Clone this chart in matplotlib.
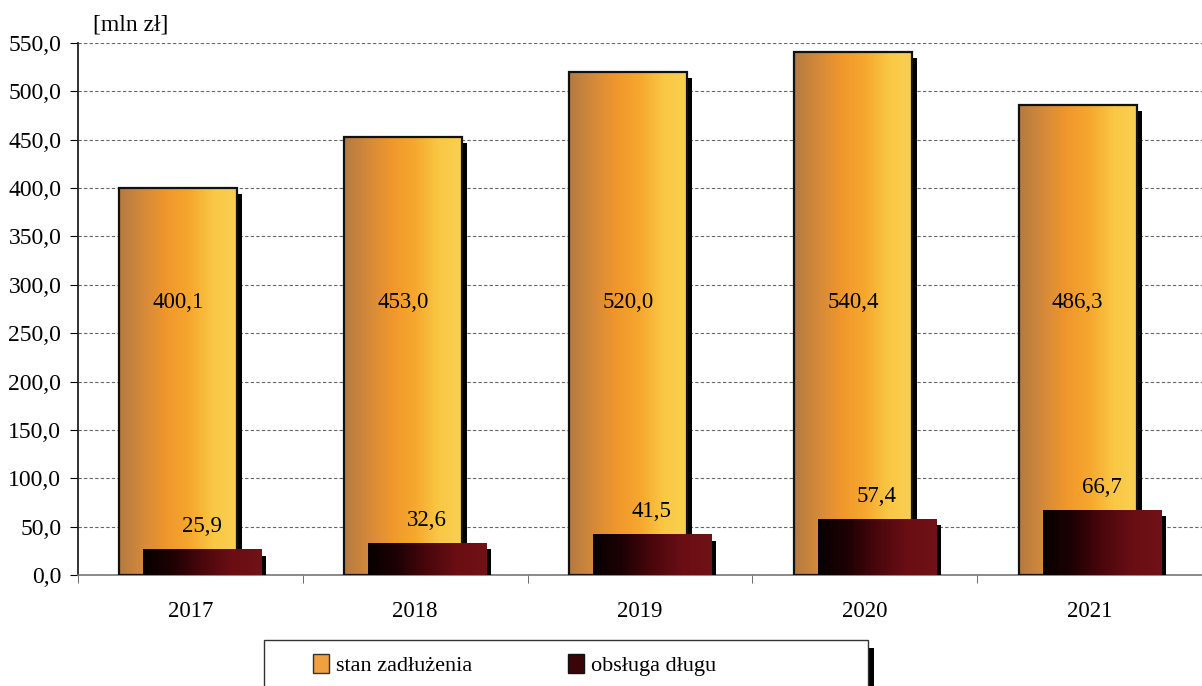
import numpy as np
import matplotlib
matplotlib.use('Agg')
import matplotlib.pyplot as plt
import matplotlib.transforms as mtransforms
from matplotlib.colors import LinearSegmentedColormap
from matplotlib.patches import Rectangle, Patch
from matplotlib.ticker import MultipleLocator, FuncFormatter, FixedLocator

# dane
lata = ['2017', '2018', '2019', '2020', '2021']
stan = [400.1, 453.0, 520.0, 540.4, 486.3]
obsluga = [25.9, 32.6, 41.5, 57.4, 66.7]
opisy = ['stan zadłużenia', 'obsługa długu']

plt.rcParams['font.family'] = ['Liberation Serif', 'DejaVu Serif']

W, H = 1202, 686
fig = plt.figure(figsize=(W / 100, H / 100), dpi=100)
ax = fig.add_axes([78 / W, 1 - 575 / H, 1 - 78 / W, (575 - 43) / H])

orange = LinearSegmentedColormap.from_list(
    'or', ['#b47a40', '#d4893a', '#f0972c', '#f6a82e', '#f9c844', '#fad052'])
dark = LinearSegmentedColormap.from_list(
    'dk', ['#080000', '#1e0204', '#4a070c', '#6a0e14', '#701218'])

x = np.arange(len(lata))
w = 0.525
d = 0.053
cien = mtransforms.offset_copy(ax.transData, fig=fig, x=5, y=-6, units='dots')
grad = np.linspace(0, 1, 256).reshape(1, -1)


def fmt(v):
    return f'{v:.1f}'.replace('.', ',')


for i in x:
    # stan zadluzenia
    x0 = i - d - w / 2
    ax.bar(i - d, stan[i], w, color='black', transform=cien, zorder=2)
    ax.imshow(grad, cmap=orange, extent=[x0, x0 + w, 0, stan[i]],
              aspect='auto', zorder=3, interpolation='bilinear')
    ax.bar(i - d, stan[i], w, facecolor='none', edgecolor='#111111',
           linewidth=1.6, zorder=3.5)
    ax.text(i - d, 282, fmt(stan[i]), ha='center', va='center',
            fontsize=16.5, zorder=7)

    # obsluga dlugu
    x1 = i + d - w / 2
    ax.bar(i + d, obsluga[i], w, color='black', transform=cien, zorder=4)
    ax.imshow(grad, cmap=dark, extent=[x1, x1 + w, 0, obsluga[i]],
              aspect='auto', zorder=5, interpolation='bilinear')
    ax.text(i + d, obsluga[i] + 24, fmt(obsluga[i]), ha='center',
            va='center', fontsize=16.5, zorder=7)

ax.set_xlim(-0.5, 4.5)
ax.set_ylim(0, 550)
ax.yaxis.set_major_locator(MultipleLocator(50))
ax.yaxis.set_major_formatter(FuncFormatter(lambda v, p: fmt(v)))
ax.set_xticks(x)
ax.set_xticklabels(lata)
ax.xaxis.set_minor_locator(FixedLocator(np.arange(-0.5, 5, 1)))
ax.tick_params(axis='x', which='major', length=0, pad=19, labelsize=16.5)
ax.tick_params(axis='x', which='minor', length=6, direction='out', color='#555555')
ax.tick_params(axis='y', length=6, direction='out', labelsize=17, pad=6)

ax.yaxis.grid(True, linestyle=(0, (3, 2)), color='#666666', linewidth=0.8)
ax.set_axisbelow(True)
for s in ['top', 'right']:
    ax.spines[s].set_visible(False)
ax.spines['left'].set_color('#222222')
ax.spines['left'].set_linewidth(1.3)
ax.spines['bottom'].set_color('#777777')
ax.spines['bottom'].set_linewidth(1.2)

fig.text(131 / W, 1 - 25 / H, '[mln zł]', ha='center', va='center', fontsize=17)

# ramka legendy
fig.add_artist(Rectangle((868 / W, -0.05), 6 / W, (1 - 648 / H) + 0.05,
                         transform=fig.transFigure, facecolor='black',
                         edgecolor='none'))
fig.add_artist(Rectangle((264 / W, -0.05), (868 - 264) / W, (1 - 640 / H) + 0.05,
                         transform=fig.transFigure, facecolor='white',
                         edgecolor='#333333', linewidth=1))
uchwyty = [Patch(facecolor='#f0a040', edgecolor='#333333'),
           Patch(facecolor='#3a0508', edgecolor='#111111')]
fig.legend(handles=uchwyty, labels=opisy, loc='center left',
           bbox_to_anchor=(313 / W, 1 - 665 / H), ncol=2, frameon=False,
           fontsize=16, handlelength=0.7, handleheight=0.95,
           handletextpad=0.35, columnspacing=4.3, borderpad=0,
           borderaxespad=0)

fig.savefig('out.png', dpi=100)
